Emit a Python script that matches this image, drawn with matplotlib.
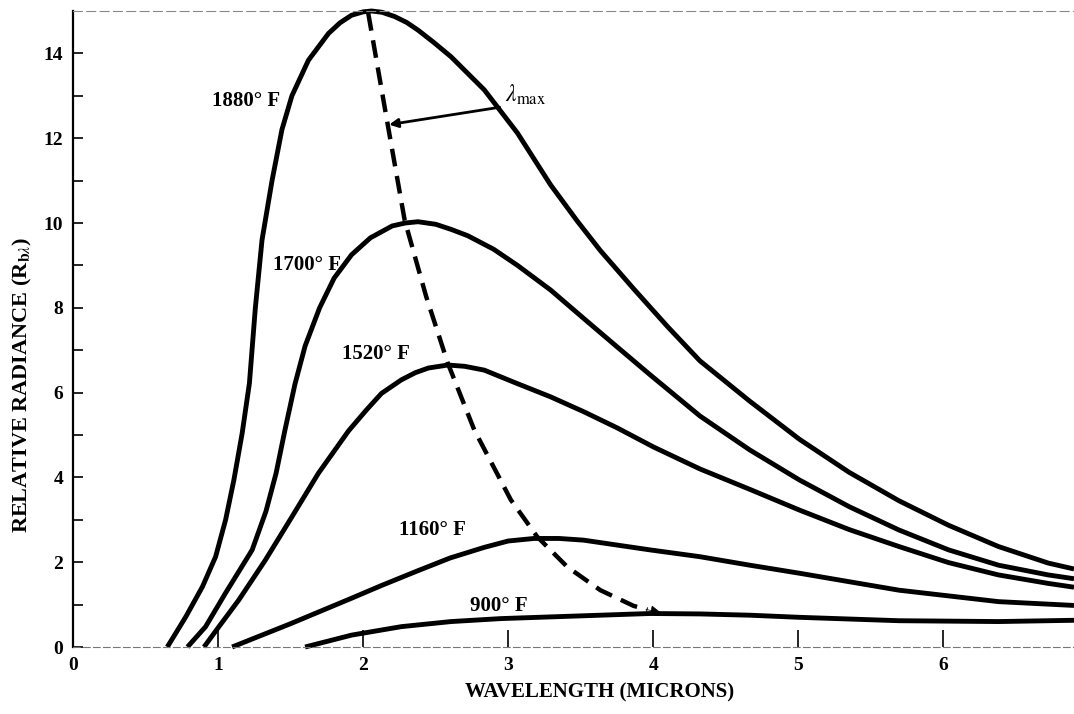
import numpy as np
import matplotlib.pyplot as plt

# Black-body curves (wavelength in microns, relative radiance)
x_1880 = [0.65, 0.777, 0.892, 0.983, 1.052, 1.109, 1.166, 1.216, 1.257, 1.303, 1.372, 1.44,
          1.509, 1.623, 1.761, 1.84, 1.92, 2.0, 2.058, 2.13, 2.217, 2.3, 2.378, 2.49, 2.606,
          2.835, 3.064, 3.292, 3.475, 3.635, 3.864, 4.1, 4.321, 4.664, 5.007, 5.35, 5.693,
          6.036, 6.379, 6.722, 6.9]
y_1880 = [0.0, 0.71, 1.42, 2.13, 3.0, 3.94, 5.04, 6.22, 8.0, 9.6, 11.0, 12.2,
          13.0, 13.84, 14.47, 14.72, 14.9, 14.98, 15.0, 14.97, 14.87, 14.73, 14.55, 14.25, 13.92,
          13.14, 12.12, 10.9, 10.05, 9.35, 8.45, 7.55, 6.75, 5.8, 4.9, 4.12, 3.45,
          2.87, 2.37, 1.98, 1.84]

x_1700 = [0.789, 0.914, 1.051, 1.235, 1.33, 1.40, 1.46, 1.53, 1.6, 1.7, 1.8, 1.92,
          2.05, 2.2, 2.29, 2.378, 2.5, 2.606, 2.721, 2.9, 3.064, 3.292, 3.52, 3.75, 3.978,
          4.321, 4.664, 5.007, 5.35, 5.693, 6.036, 6.379, 6.722, 6.9]
y_1700 = [0.0, 0.48, 1.27, 2.29, 3.2, 4.1, 5.1, 6.2, 7.1, 8.0, 8.7, 9.25,
          9.65, 9.93, 10.0, 10.03, 9.97, 9.85, 9.7, 9.38, 9.0, 8.42, 7.75, 7.08, 6.42,
          5.45, 4.65, 3.94, 3.31, 2.76, 2.29, 1.93, 1.70, 1.61]

x_1520 = [0.903, 1.006, 1.143, 1.326, 1.509, 1.692, 1.9, 2.02, 2.126, 2.263, 2.36, 2.45,
          2.584, 2.7, 2.835, 3.05, 3.292, 3.52, 3.75, 4.0, 4.321, 4.664, 5.007, 5.35, 5.693,
          6.036, 6.379, 6.722, 6.9]
y_1520 = [0.0, 0.48, 1.11, 2.05, 3.07, 4.10, 5.1, 5.58, 5.98, 6.30, 6.47, 6.58,
          6.65, 6.62, 6.53, 6.23, 5.9, 5.55, 5.17, 4.72, 4.2, 3.72, 3.23, 2.77, 2.37,
          1.99, 1.70, 1.50, 1.41]

x_1160 = [1.097, 1.5, 1.92, 2.126, 2.378, 2.6, 2.835, 3.0, 3.178, 3.35, 3.52, 3.978,
          4.321, 4.664, 5.007, 5.693, 6.379, 6.9]
y_1160 = [0.0, 0.55, 1.15, 1.45, 1.8, 2.1, 2.35, 2.5, 2.56, 2.56, 2.52, 2.29,
          2.13, 1.93, 1.74, 1.34, 1.07, 0.98]

x_900 = [1.6, 1.92, 2.263, 2.606, 2.95, 3.292, 3.978, 4.321, 4.664, 5.007, 5.693, 6.379, 6.9]
y_900 = [0.0, 0.28, 0.48, 0.60, 0.67, 0.71, 0.79, 0.78, 0.75, 0.70, 0.62, 0.60, 0.63]

# locus of the peaks (lambda max)
x_peak = [2.035, 2.172, 2.286, 2.435, 2.584, 2.766, 3.018, 3.2, 3.407, 3.635, 3.864, 3.96]
y_peak = [14.95, 12.27, 10.07, 8.26, 6.69, 5.12, 3.47, 2.60, 1.89, 1.34, 0.97, 0.88]

curve_labels = ['1880° F', '1700° F', '1520° F', '1160° F', '900° F']
label_pos = [(1.43, 12.87, 'right'), (1.38, 9.0, 'left'), (1.854, 6.92, 'left'),
             (2.25, 2.75, 'left'), (2.74, 0.97, 'left')]

plt.rcParams['font.family'] = ['Liberation Serif', 'DejaVu Serif']
plt.rcParams['mathtext.fontset'] = 'stix'

fig = plt.figure(figsize=(10.74, 7.14), dpi=100)
ax = fig.add_axes([73 / 1074, 67 / 714, 1001 / 1074, 636 / 714])

for xs, ys in [(x_1880, y_1880), (x_1700, y_1700), (x_1520, y_1520),
               (x_1160, y_1160), (x_900, y_900)]:
    ax.plot(xs, ys, color='black', lw=3.5, solid_capstyle='butt',
            solid_joinstyle='round', clip_on=False)

ax.plot(x_peak, y_peak, color='black', lw=3.2, linestyle=(0, (4, 2.2)))
ax.annotate('', xy=(4.07, 0.8), xytext=(3.93, 0.9),
            arrowprops=dict(arrowstyle='-|>', color='black', lw=0.5, mutation_scale=16))

for text, (lx, ly, ha) in zip(curve_labels, label_pos):
    ax.text(lx, ly, text, ha=ha, va='center', fontsize=15, fontweight='bold')

ax.annotate('', xy=(2.16, 12.31), xytext=(2.96, 12.74),
            arrowprops=dict(arrowstyle='-|>', color='black', lw=2.0, mutation_scale=13))
ax.text(2.98, 13.02, r'$\lambda_{\mathrm{max}}$', fontsize=17, ha='left', va='center')

ax.set_xlim(0, 6.9)
ax.set_ylim(0, 15)
ax.set_xticks(range(0, 7))
ax.set_yticks(range(0, 15, 2))
ax.set_yticks(range(1, 15, 2), minor=True)
ax.tick_params(axis='y', which='both', direction='in', length=7, width=1.2, labelsize=14, pad=7)
ax.tick_params(axis='x', direction='in', length=12, width=1.2, labelsize=14, pad=7)
for lab in ax.get_xticklabels() + ax.get_yticklabels():
    lab.set_fontweight('bold')
ax.text(7, -0.48, '7', ha='center', va='top', fontsize=14, fontweight='bold', clip_on=False)

ax.spines['right'].set_visible(False)
ax.spines['left'].set_linewidth(1.6)
ax.spines['bottom'].set_color('#777777')
ax.spines['bottom'].set_linestyle((0, (6, 3)))
ax.spines['top'].set_color('#888888')
ax.spines['top'].set_linestyle((0, (8, 4)))

fig.text(22 / 1074, (714 - 385) / 714, r'RELATIVE RADIANCE (R$_{\mathbf{b}\lambda}$)',
         rotation=90, ha='center', va='center', fontsize=16, fontweight='bold')
fig.text(600 / 1074, (714 - 692) / 714, 'WAVELENGTH (MICRONS)',
         ha='center', va='center', fontsize=15, fontweight='bold')

fig.savefig('out.png', dpi=100)
